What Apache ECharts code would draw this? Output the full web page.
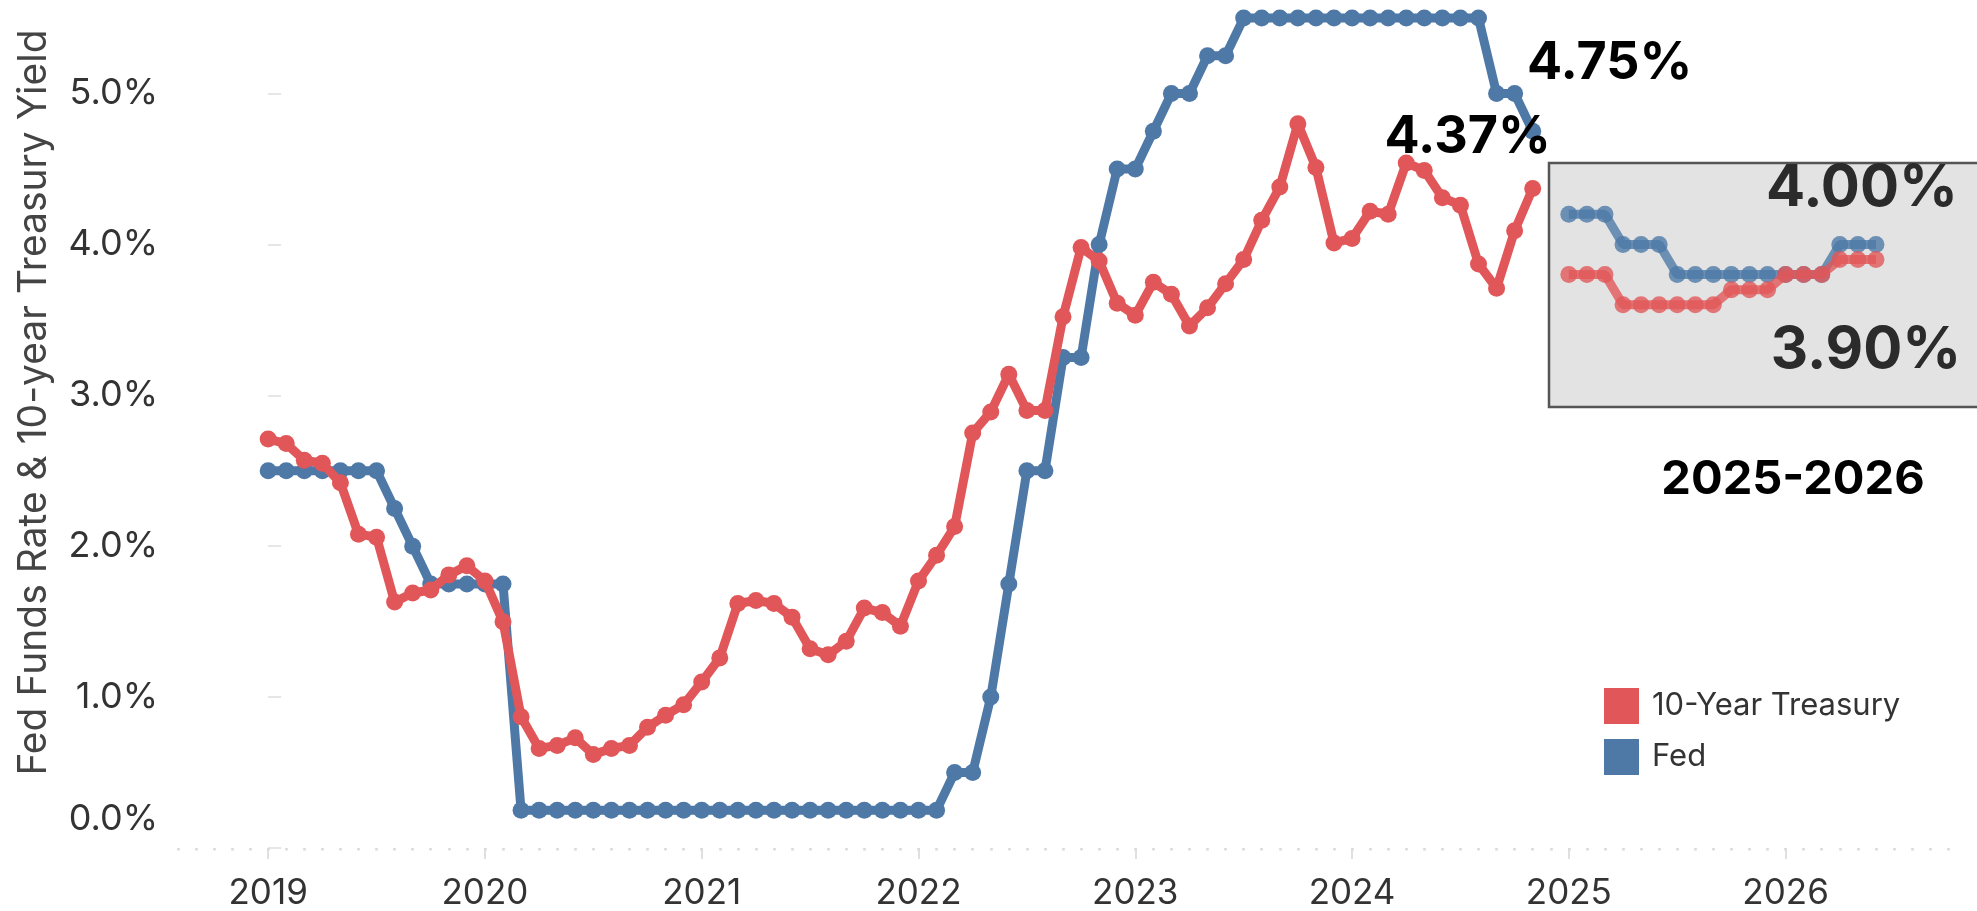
<!DOCTYPE html>
<html><head><meta charset="utf-8">
<script src="https://cdn.jsdelivr.net/npm/echarts@6/dist/echarts.min.js"></script>
<style>html,body{margin:0;padding:0;background:#fff}#chart{width:1977px;height:911px}</style>
</head><body><div id="chart"></div>
<script>
// ---- data ----
const firstMonth = '2019-01';
const forecastFirstMonth = '2025-01';
const yearLabels = ['2019', '2020', '2021', '2022', '2023', '2024', '2025', '2026'];
const yTickValues = [0, 1, 2, 3, 4, 5];
const fedRate = [
  2.5, 2.5, 2.5, 2.5, 2.5, 2.5, 2.5, 2.25, 2.0, 1.75, 1.75, 1.75,
  1.75, 1.75, 0.25, 0.25, 0.25, 0.25, 0.25, 0.25, 0.25, 0.25, 0.25, 0.25,
  0.25, 0.25, 0.25, 0.25, 0.25, 0.25, 0.25, 0.25, 0.25, 0.25, 0.25, 0.25,
  0.25, 0.25, 0.5, 0.5, 1.0, 1.75, 2.5, 2.5, 3.25, 3.25, 4.0, 4.5,
  4.5, 4.75, 5.0, 5.0, 5.25, 5.25, 5.5, 5.5, 5.5, 5.5, 5.5, 5.5,
  5.5, 5.5, 5.5, 5.5, 5.5, 5.5, 5.5, 5.5, 5.0, 5.0, 4.75
];
const treasury10y = [
  2.71, 2.68, 2.57, 2.55, 2.42, 2.08, 2.06, 1.63, 1.69, 1.71, 1.81, 1.87,
  1.77, 1.50, 0.87, 0.66, 0.68, 0.73, 0.62, 0.66, 0.68, 0.80, 0.88, 0.95,
  1.10, 1.26, 1.62, 1.64, 1.62, 1.53, 1.32, 1.28, 1.37, 1.59, 1.56, 1.47,
  1.77, 1.94, 2.13, 2.75, 2.89, 3.14, 2.90, 2.90, 3.52, 3.98, 3.89, 3.61,
  3.53, 3.75, 3.67, 3.46, 3.58, 3.74, 3.90, 4.16, 4.38, 4.80, 4.51, 4.01,
  4.04, 4.22, 4.20, 4.54, 4.49, 4.31, 4.26, 3.87, 3.71, 4.09, 4.37
];
const fedForecast = [4.2, 4.2, 4.2, 4.0, 4.0, 4.0, 3.8, 3.8, 3.8, 3.8, 3.8, 3.8, 3.8, 3.8, 3.8, 4.0, 4.0, 4.0];
const treasuryForecast = [3.8, 3.8, 3.8, 3.6, 3.6, 3.6, 3.6, 3.6, 3.6, 3.7, 3.7, 3.7, 3.8, 3.8, 3.8, 3.9, 3.9, 3.9];

// ---- helpers ----
const FONT = 'Inter';
const RED = '#E15759', BLUE = '#4E79A7';
const RED_SOFT = 'rgba(225,87,89,0.8)', BLUE_SOFT = 'rgba(78,121,167,0.8)';
function monthIndex(s) { const [y, m] = s.split('-').map(Number); return (y - 2019) * 12 + (m - 1); }
function toPoints(values, start, lastLabel) {
  const s = monthIndex(start);
  return values.map((v, i) => {
    const item = { value: [s + i, v] };
    if (lastLabel && i === values.length - 1) item.label = Object.assign({ show: true }, lastLabel);
    return item;
  });
}
function bigLabel(offset, size, color) {
  return {
    position: 'inside', offset: offset, align: 'center', verticalAlign: 'middle',
    formatter: p => p.value[1].toFixed(2) + '%',
    fontFamily: FONT, fontWeight: 'bold', fontSize: size, color: color
  };
}
const yearTickValues = yearLabels.map((_, i) => i * 12);
const monthTickValues = [];
for (let m = -5; m <= 93; m++) monthTickValues.push(m);

function lineSeries(name, data, color, z) {
  return { name: name, type: 'line', z: z, clip: false, symbol: 'circle', symbolSize: 17,
    lineStyle: { width: 9, color: color }, itemStyle: { color: color },
    emphasis: { disabled: true }, data: data };
}

const chart = echarts.init(document.getElementById('chart'), null, { renderer: 'canvas' });
chart.setOption({
  animation: false,
  backgroundColor: '#fff',
  grid: { left: 167, right: 27, top: 3, bottom: 60, containLabel: false },
  legend: {
    orient: 'vertical', left: 1599, top: 683, itemWidth: 35, itemHeight: 36, itemGap: 15,
    icon: 'rect', selectedMode: false,
    textStyle: { fontFamily: FONT, fontSize: 31, color: '#333', padding: [0, 0, 0, 8] },
    data: ['10-Year Treasury', 'Fed']
  },
  xAxis: [{
    type: 'value', min: -5.6, max: 93.1,
    axisLine: { show: false }, splitLine: { show: false },
    axisTick: { show: true, customValues: yearTickValues, length: 11, lineStyle: { color: '#d6d6d6', width: 1.5 } },
    axisLabel: {
      customValues: yearTickValues, margin: 28,
      formatter: v => yearLabels[Math.round(v / 12)],
      fontFamily: FONT, fontSize: 35, color: '#333'
    }
  }, {
    type: 'value', min: -5.6, max: 93.1, position: 'bottom',
    axisLine: { show: false }, splitLine: { show: false }, axisLabel: { show: false },
    axisTick: { show: true, customValues: monthTickValues, length: 2.5, lineStyle: { color: '#d9d9d9', width: 2.5 } }
  }],
  yAxis: {
    type: 'value', min: 0, max: 5.6, interval: 1,
    axisLine: { show: false }, splitLine: { show: false },
    axisTick: { show: true, inside: true, length: 13, customValues: yTickValues, lineStyle: { color: '#dedede', width: 1.5 } },
    axisLabel: {
      customValues: yTickValues, margin: 9,
      formatter: v => v === 0 ? '{z|0.0%}' : v.toFixed(1) + '%',
      fontFamily: FONT, fontSize: 36, color: '#333',
      rich: { z: { fontFamily: FONT, fontSize: 36, color: '#333', padding: [0, 0, 58, 0] } }
    },
    name: 'Fed Funds Rate & 10-year Treasury Yield',
    nameLocation: 'middle', nameGap: 113, nameRotate: 90,
    nameTextStyle: { fontFamily: FONT, fontSize: 39, color: '#444', padding: [0, 0, 0, 46] }
  },
  graphic: [
    { type: 'rect', z: -10, silent: true,
      shape: { x: 1549, y: 163, width: 440, height: 244 },
      style: { fill: '#e3e3e3', stroke: '#555', lineWidth: 2.5 } },
    { type: 'text', z: 10, silent: true,
      style: { text: '2025-2026', x: 1793, y: 480, align: 'center', verticalAlign: 'middle',
        font: 'bold 47px Inter', fill: '#000' } }
  ],
  series: [
    lineSeries('Fed', toPoints(fedRate, firstMonth, bigLabel([77, -68], 52, '#000')), BLUE, 2),
    lineSeries('10-Year Treasury', toPoints(treasury10y, firstMonth, bigLabel([-65, -51], 52, '#000')), RED, 3),
    lineSeries('Fed forecast', toPoints(fedForecast, forecastFirstMonth, bigLabel([-14, -56], 58, '#2b2b2b')), BLUE_SOFT, 2),
    lineSeries('Treasury forecast', toPoints(treasuryForecast, forecastFirstMonth, bigLabel([-10, 91], 58, '#2b2b2b')), RED_SOFT, 3)
  ]
});
</script></body></html>
